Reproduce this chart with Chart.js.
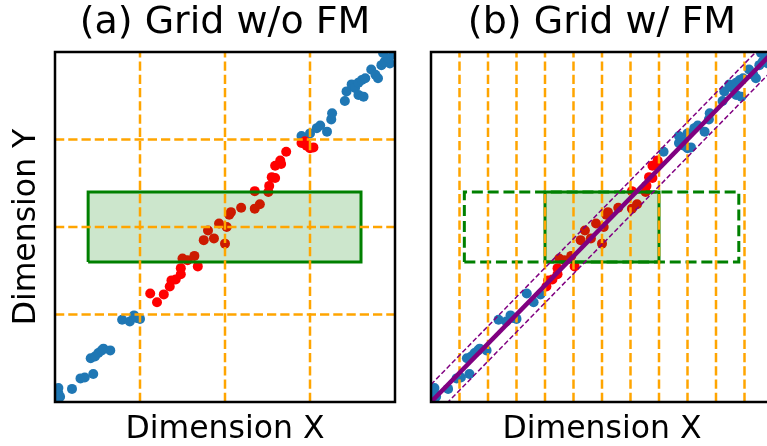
<!DOCTYPE html>
<html>
<head>
<meta charset="utf-8">
<title>Grid index with and without function mapping</title>
<script src="https://cdn.jsdelivr.net/npm/chart.js@4/dist/chart.umd.min.js"></script>
<style>
  html, body { margin: 0; padding: 0; background: #fff; overflow: hidden; width: 767px; height: 446px; }
  canvas { position: absolute; top: 0; }
  #panelA { left: 0; }
  #panelB { left: 400px; }
</style>
</head>
<body>
<canvas id="panelA" width="400" height="446"></canvas>
<canvas id="panelB" width="400" height="446"></canvas>
<script>
// Sample points (Dimension X, Dimension Y)
const pointX = [
  0.02, 0.04, 0.04, 0.06, 0.20, 0.30, 0.35, 0.45, 0.42, 0.47,
  0.51, 0.55, 0.57, 0.65, 0.79, 0.88, 0.93, 0.96, 1.00, 1.12,
  1.20, 1.28, 1.35, 1.37, 1.42, 1.48, 1.48, 1.50, 1.56, 1.64,
  1.68, 1.75, 1.80, 1.87, 1.93, 2.00, 2.02, 2.05, 2.07, 2.19,
  2.35, 2.41, 2.35, 2.51, 2.52, 2.55, 2.59, 2.59, 2.65, 2.66,
  2.72, 2.90, 2.94, 2.96, 3.00, 3.04, 2.90, 3.00, 3.08, 3.12,
  3.20, 3.25, 3.26, 3.41, 3.43, 3.49, 3.53, 3.57, 3.57, 3.63,
  3.61, 3.65, 3.72, 3.77, 3.80, 3.84, 3.88, 3.94, 3.92, 3.86,
  3.98
];
const pointY = [
  0.04, 0.10, 0.16, 0.06, 0.15, 0.27, 0.28, 0.32, 0.50, 0.52,
  0.56, 0.59, 0.61, 0.59, 0.94, 0.92, 0.99, 0.96, 0.95, 1.24,
  1.14, 1.23, 1.32, 1.39, 1.40, 1.46, 1.53, 1.64, 1.62, 1.67,
  1.55, 1.85, 1.96, 1.87, 2.04, 1.81, 2.00, 2.14, 2.17, 2.22,
  2.21, 2.26, 2.41, 2.40, 2.47, 2.57, 2.56, 2.70, 2.76, 2.72,
  2.86, 2.96, 2.98, 2.93, 2.90, 2.91, 3.04, 3.07, 3.13, 3.16,
  3.09, 3.23, 3.30, 3.44, 3.55, 3.63, 3.59, 3.65, 3.51, 3.49,
  3.68, 3.70, 3.80, 3.74, 3.70, 3.85, 3.89, 3.87, 3.93, 3.99,
  3.97
];

// Axis range shared by both panels
const axisRange = [0, 4];

// Grid cell boundaries
const gridA_X = [1, 2, 3];
const gridA_Y = [1, 2, 3];
const gridB_X = [1/3, 2/3, 1, 4/3, 5/3, 2, 7/3, 8/3, 3, 10/3, 11/3];

// Range query rectangle
const queryX = [0.39, 3.6];
const queryY = [1.6, 2.4];

// Cells scanned by each index
const scannedRowsA = [1, 3];      // rows of the plain grid (Dimension Y)
const scannedColsB = [4/3, 8/3];  // columns after mapping (Dimension X)

// Fitted mapping y = x and its error band
const fitX = [0, 4];
const fitY = [0, 4];
const fitError = 0.2;

const BLUE = '#1f77b4', RED = '#ff0000', ORANGE = '#ffa500', GREEN = '#008000', PURPLE = '#800080';
const FONT = '"DejaVu Sans", "Liberation Sans", sans-serif';
const GRID_DASH = [9.25, 4];

function xy(xs, ys) { return xs.map((x, i) => ({ x: x, y: ys[i] })); }

function rectPath(xr, yr) {
  return [
    { x: xr[0], y: yr[0] }, { x: xr[1], y: yr[0] },
    { x: xr[1], y: yr[1] }, { x: xr[0], y: yr[1] },
    { x: xr[0], y: yr[0] }
  ];
}

function verticalLines(xs) {
  const out = [];
  xs.forEach(v => { out.push({ x: v, y: axisRange[0] }, { x: v, y: axisRange[1] }, { x: v, y: null }); });
  return out;
}
function horizontalLines(ys) {
  const out = [];
  ys.forEach(v => { out.push({ x: axisRange[0], y: v }, { x: axisRange[1], y: v }, { x: null, y: v }); });
  return out;
}

function pointSets(isSelected) {
  const sel = [], rest = [];
  pointX.forEach((x, i) => {
    const p = { x: x, y: pointY[i] };
    (isSelected(p) ? sel : rest).push(p);
  });
  return { sel, rest };
}

function scatterDataset(data, color, order) {
  return {
    type: 'scatter', data, order, clip: 0,
    backgroundColor: color, borderWidth: 0,
    pointRadius: 5, pointHoverRadius: 5
  };
}

function lineDataset(data, color, width, dash, order, extra) {
  return Object.assign({
    type: 'line', data, order, clip: 0,
    borderColor: color, borderWidth: width, borderDash: dash || [],
    pointRadius: 0, pointHoverRadius: 0, tension: 0, fill: false, spanGaps: false
  }, extra || {});
}

function decor(title, xLabel, yLabel) {
  return {
    id: 'panelDecor',
    afterDraw(chart) {
      const { ctx, chartArea: a } = chart;
      ctx.save();
      ctx.strokeStyle = '#000';
      ctx.lineWidth = 2.5;
      ctx.strokeRect(a.left, a.top, a.right - a.left, a.bottom - a.top);
      ctx.fillStyle = '#000';
      ctx.textAlign = 'center';
      ctx.textBaseline = 'alphabetic';
      const cx = (a.left + a.right) / 2;
      ctx.font = '38px ' + FONT;
      ctx.fillText(title, cx, a.top - 19);
      ctx.font = '31.5px ' + FONT;
      ctx.fillText(xLabel, cx, a.bottom + 36);
      if (yLabel) {
        ctx.translate(a.left - 20, (a.top + a.bottom) / 2);
        ctx.rotate(-Math.PI / 2);
        ctx.fillText(yLabel, 0, 0);
      }
      ctx.restore();
    }
  };
}

function baseOptions(padding) {
  return {
    responsive: false,
    animation: false,
    devicePixelRatio: 1,
    layout: { padding },
    plugins: { legend: { display: false }, tooltip: { enabled: false }, title: { display: false } },
    events: [],
    scales: {
      x: { type: 'linear', min: axisRange[0], max: axisRange[1], display: false },
      y: { type: 'linear', min: axisRange[0], max: axisRange[1], display: false }
    }
  };
}

// (a) plain grid: every point in the scanned rows is read
const setsA = pointSets(p => p.y >= scannedRowsA[0] && p.y < scannedRowsA[1]);
new Chart(document.getElementById('panelA'), {
  type: 'scatter',
  data: {
    datasets: [
      lineDataset(verticalLines(gridA_X), ORANGE, 2.5, GRID_DASH, 1),
      lineDataset(horizontalLines(gridA_Y), ORANGE, 2.5, GRID_DASH, 1),
      lineDataset(rectPath(queryX, queryY), GREEN, 3, [], 2,
        { fill: 'shape', backgroundColor: 'rgba(0,128,0,0.2)' }),
      scatterDataset(setsA.sel, RED, 3),
      scatterDataset(setsA.rest, BLUE, 3)
    ]
  },
  options: baseOptions({ left: 55, top: 52, right: 3, bottom: 44 }),
  plugins: [decor('(a) Grid w/o FM', 'Dimension X', 'Dimension Y')]
});

// (b) grid over the mapped dimension: only the mapped columns are read
const setsB = pointSets(p => p.x >= scannedColsB[0] && p.x <= scannedColsB[1]);
const bandUpper = xy(fitX, fitY.map(v => v + fitError));
const bandLower = xy(fitX, fitY.map(v => v - fitError));
new Chart(document.getElementById('panelB'), {
  type: 'scatter',
  data: {
    datasets: [
      lineDataset(xy(fitX, fitY), PURPLE, 4.5, [], 0),
      lineDataset(bandUpper, PURPLE, 1.5, [5, 2.5], 0),
      lineDataset(bandLower, PURPLE, 1.5, [5, 2.5], 0),
      lineDataset(verticalLines(gridB_X), ORANGE, 2.5, GRID_DASH, 1),
      lineDataset(rectPath(queryX, queryY), GREEN, 3, [11, 4.8], 2),
      lineDataset(rectPath(scannedColsB, queryY), GREEN, 3, [], 2,
        { fill: 'shape', backgroundColor: 'rgba(0,128,0,0.2)' }),
      scatterDataset(setsB.sel, RED, 3),
      scatterDataset(setsB.rest, BLUE, 3)
    ]
  },
  options: baseOptions({ left: 31, top: 52, right: 27, bottom: 44 }),
  plugins: [decor('(b) Grid w/ FM', 'Dimension X', null)]
});
</script>
</body>
</html>
